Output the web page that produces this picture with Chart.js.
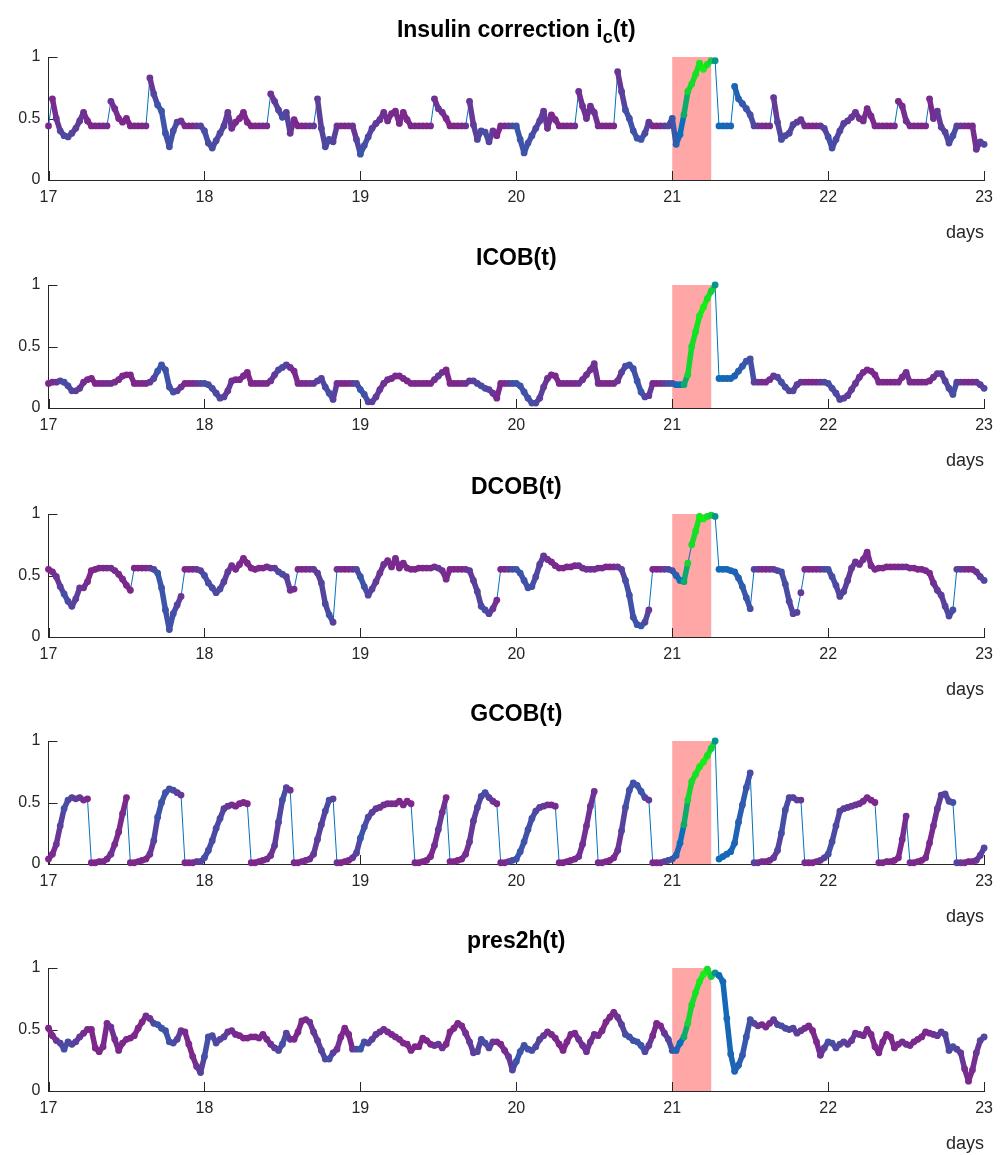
<!DOCTYPE html>
<html>
<head>
<meta charset="utf-8">
<title>Normalised features, days 17-23</title>
<script src="https://cdn.jsdelivr.net/npm/chart.js@4.4.1/dist/chart.umd.min.js"></script>
<style>
  html, body { margin: 0; padding: 0; background: #fff; }
  #figure { position: relative; width: 1001px; height: 1155px; overflow: hidden; }
  #figure canvas { position: absolute; left: 0; }
</style>
</head>
<body>
<div id="figure"></div>
<script>
// one sample every 0.025 days, day 17 to day 23
const startDay = 17;
const stepDays = 0.025;
const sampleCount = 241;

const icValues = [
  0.44,0.66,0.50,0.40,0.36,0.35,0.38,0.42,0.48,0.55,0.48,0.44,0.44,0.44,0.44,0.44,0.64,0.58,0.50,0.47,
  0.50,0.44,0.44,0.44,0.44,0.44,0.83,0.70,0.61,0.56,0.38,0.27,0.40,0.47,0.48,0.44,0.44,0.44,0.44,0.44,
  0.40,0.30,0.26,0.32,0.38,0.44,0.55,0.42,0.47,0.50,0.55,0.47,0.44,0.44,0.44,0.44,0.44,0.70,0.64,0.57,
  0.51,0.55,0.38,0.49,0.44,0.44,0.44,0.44,0.44,0.66,0.42,0.27,0.33,0.31,0.44,0.44,0.44,0.44,0.44,0.33,
  0.21,0.28,0.35,0.42,0.46,0.49,0.55,0.48,0.54,0.56,0.46,0.55,0.49,0.44,0.44,0.44,0.44,0.44,0.44,0.66,
  0.58,0.55,0.50,0.44,0.44,0.44,0.44,0.44,0.64,0.45,0.33,0.40,0.39,0.31,0.40,0.36,0.44,0.44,0.44,0.44,
  0.44,0.33,0.22,0.30,0.36,0.42,0.48,0.56,0.42,0.53,0.49,0.44,0.44,0.44,0.44,0.44,0.72,0.60,0.50,0.60,
  0.55,0.44,0.44,0.44,0.44,0.44,0.88,0.72,0.57,0.50,0.40,0.34,0.33,0.38,0.47,0.44,0.44,0.44,0.44,0.44,
  0.50,0.29,0.37,0.53,0.72,0.78,0.86,0.95,0.90,0.94,0.97,0.97,0.44,0.44,0.44,0.44,0.76,0.66,0.62,0.58,
  0.53,0.44,0.44,0.44,0.44,0.44,0.67,0.47,0.33,0.36,0.38,0.45,0.47,0.49,0.44,0.44,0.44,0.44,0.44,0.42,
  0.35,0.26,0.33,0.40,0.46,0.48,0.51,0.55,0.50,0.48,0.58,0.52,0.44,0.44,0.44,0.44,0.44,0.44,0.64,0.60,
  0.48,0.44,0.44,0.44,0.44,0.44,0.66,0.50,0.56,0.43,0.39,0.30,0.36,0.44,0.44,0.44,0.44,0.44,0.25,0.31,
  0.29
];

const icobValues = [
  0.20,0.21,0.21,0.22,0.21,0.18,0.14,0.14,0.16,0.21,0.23,0.24,0.20,0.20,0.20,0.20,0.20,0.21,0.23,0.26,
  0.27,0.27,0.20,0.20,0.20,0.20,0.21,0.24,0.30,0.35,0.31,0.17,0.13,0.14,0.17,0.20,0.20,0.20,0.20,0.20,
  0.20,0.19,0.16,0.12,0.08,0.09,0.14,0.22,0.23,0.23,0.26,0.29,0.20,0.20,0.20,0.20,0.20,0.22,0.27,0.31,
  0.33,0.35,0.33,0.30,0.20,0.20,0.20,0.20,0.20,0.22,0.24,0.17,0.12,0.07,0.20,0.20,0.20,0.20,0.20,0.20,
  0.15,0.11,0.05,0.05,0.09,0.15,0.20,0.23,0.24,0.26,0.26,0.24,0.22,0.20,0.20,0.20,0.20,0.20,0.20,0.23,
  0.26,0.29,0.31,0.20,0.20,0.20,0.20,0.20,0.22,0.22,0.20,0.18,0.16,0.15,0.12,0.08,0.20,0.20,0.20,0.20,
  0.20,0.18,0.13,0.08,0.04,0.04,0.08,0.17,0.24,0.27,0.26,0.20,0.20,0.20,0.20,0.20,0.20,0.23,0.27,0.31,
  0.36,0.20,0.20,0.20,0.20,0.20,0.22,0.29,0.34,0.35,0.32,0.22,0.13,0.09,0.10,0.20,0.20,0.20,0.20,0.20,
  0.20,0.19,0.19,0.19,0.27,0.50,0.62,0.75,0.82,0.89,0.95,1.00,0.24,0.24,0.24,0.24,0.26,0.30,0.34,0.38,
  0.40,0.21,0.21,0.21,0.21,0.23,0.26,0.25,0.21,0.17,0.14,0.14,0.19,0.21,0.21,0.21,0.21,0.21,0.21,0.21,
  0.20,0.16,0.12,0.07,0.08,0.10,0.15,0.20,0.25,0.29,0.31,0.30,0.27,0.21,0.21,0.21,0.21,0.21,0.21,0.25,
  0.29,0.21,0.21,0.21,0.21,0.21,0.22,0.25,0.28,0.28,0.22,0.16,0.11,0.21,0.21,0.21,0.21,0.21,0.21,0.19,
  0.16
];

const dcobValues = [
  0.55,0.53,0.49,0.41,0.35,0.29,0.25,0.31,0.40,0.40,0.45,0.54,0.55,0.56,0.56,0.56,0.56,0.54,0.51,0.47,
  0.42,0.38,0.56,0.56,0.56,0.56,0.56,0.55,0.52,0.40,0.22,0.06,0.19,0.26,0.33,0.55,0.55,0.55,0.55,0.54,
  0.50,0.44,0.40,0.36,0.39,0.45,0.53,0.58,0.55,0.59,0.64,0.60,0.56,0.55,0.56,0.56,0.57,0.56,0.56,0.53,
  0.51,0.49,0.38,0.39,0.55,0.55,0.55,0.55,0.55,0.52,0.44,0.27,0.18,0.12,0.55,0.55,0.55,0.55,0.55,0.55,
  0.49,0.41,0.34,0.39,0.45,0.52,0.59,0.62,0.57,0.64,0.56,0.60,0.56,0.55,0.55,0.56,0.56,0.56,0.56,0.57,
  0.56,0.54,0.47,0.55,0.55,0.55,0.55,0.55,0.54,0.46,0.37,0.25,0.22,0.19,0.23,0.30,0.55,0.55,0.55,0.55,
  0.55,0.52,0.46,0.40,0.41,0.49,0.59,0.66,0.63,0.61,0.58,0.56,0.56,0.57,0.57,0.58,0.58,0.56,0.55,0.55,
  0.55,0.56,0.56,0.57,0.57,0.57,0.57,0.55,0.46,0.34,0.16,0.10,0.09,0.12,0.22,0.55,0.55,0.55,0.55,0.55,
  0.54,0.50,0.46,0.45,0.60,0.75,0.86,0.98,0.96,0.98,0.99,0.98,0.55,0.55,0.55,0.54,0.53,0.48,0.41,0.32,
  0.23,0.55,0.55,0.55,0.55,0.55,0.55,0.54,0.53,0.43,0.29,0.19,0.20,0.36,0.55,0.55,0.55,0.55,0.55,0.55,
  0.55,0.49,0.42,0.33,0.37,0.46,0.56,0.61,0.59,0.63,0.69,0.58,0.55,0.56,0.56,0.57,0.57,0.57,0.57,0.57,
  0.57,0.56,0.56,0.55,0.55,0.54,0.52,0.44,0.38,0.34,0.25,0.17,0.22,0.55,0.55,0.55,0.55,0.55,0.53,0.49,
  0.46
];

const gcobValues = [
  0.04,0.08,0.16,0.31,0.45,0.52,0.54,0.53,0.54,0.52,0.53,0.01,0.01,0.02,0.02,0.04,0.08,0.16,0.26,0.41,
  0.54,0.01,0.01,0.02,0.03,0.04,0.08,0.19,0.38,0.50,0.58,0.61,0.60,0.58,0.56,0.01,0.01,0.01,0.02,0.02,
  0.05,0.11,0.19,0.29,0.37,0.45,0.47,0.48,0.47,0.49,0.50,0.49,0.01,0.01,0.02,0.03,0.04,0.07,0.15,0.34,
  0.52,0.62,0.60,0.01,0.01,0.02,0.03,0.04,0.08,0.20,0.32,0.43,0.52,0.53,0.01,0.01,0.02,0.03,0.05,0.09,
  0.21,0.30,0.38,0.42,0.45,0.46,0.48,0.49,0.49,0.49,0.51,0.48,0.51,0.49,0.01,0.01,0.02,0.03,0.06,0.15,
  0.28,0.42,0.54,0.02,0.02,0.03,0.04,0.08,0.18,0.35,0.46,0.55,0.58,0.54,0.51,0.49,0.01,0.01,0.02,0.03,
  0.04,0.10,0.18,0.28,0.37,0.43,0.46,0.47,0.48,0.48,0.47,0.01,0.01,0.02,0.03,0.04,0.06,0.16,0.31,0.47,
  0.59,0.01,0.01,0.02,0.03,0.05,0.11,0.27,0.46,0.60,0.66,0.64,0.59,0.54,0.52,0.01,0.01,0.01,0.02,0.03,
  0.04,0.07,0.17,0.32,0.52,0.67,0.73,0.79,0.83,0.88,0.94,1.00,0.04,0.06,0.08,0.10,0.17,0.34,0.48,0.62,
  0.74,0.01,0.01,0.02,0.02,0.03,0.05,0.11,0.25,0.44,0.54,0.54,0.52,0.52,0.01,0.01,0.01,0.02,0.03,0.05,
  0.08,0.18,0.31,0.43,0.45,0.46,0.47,0.48,0.49,0.51,0.54,0.52,0.50,0.01,0.01,0.02,0.02,0.03,0.05,0.20,
  0.39,0.01,0.01,0.02,0.03,0.05,0.17,0.31,0.45,0.56,0.57,0.51,0.50,0.01,0.01,0.01,0.02,0.02,0.03,0.07,
  0.13
];

const pres2hValues = [
  0.51,0.45,0.41,0.39,0.34,0.40,0.38,0.40,0.44,0.47,0.50,0.50,0.35,0.32,0.36,0.55,0.52,0.42,0.33,0.39,
  0.42,0.43,0.45,0.51,0.56,0.61,0.59,0.55,0.54,0.51,0.49,0.40,0.39,0.42,0.49,0.48,0.38,0.28,0.20,0.15,
  0.28,0.44,0.45,0.39,0.42,0.44,0.48,0.49,0.46,0.45,0.43,0.43,0.44,0.44,0.43,0.46,0.42,0.38,0.35,0.33,
  0.38,0.47,0.42,0.42,0.48,0.57,0.58,0.56,0.48,0.41,0.33,0.26,0.26,0.31,0.34,0.44,0.51,0.46,0.34,0.34,
  0.34,0.40,0.39,0.42,0.46,0.48,0.50,0.48,0.46,0.44,0.42,0.39,0.38,0.33,0.36,0.36,0.43,0.41,0.38,0.37,
  0.38,0.35,0.38,0.48,0.51,0.55,0.53,0.47,0.40,0.31,0.32,0.42,0.39,0.35,0.40,0.40,0.38,0.33,0.28,0.17,
  0.24,0.32,0.37,0.34,0.33,0.36,0.42,0.45,0.48,0.46,0.43,0.38,0.33,0.40,0.46,0.47,0.42,0.37,0.32,0.40,
  0.46,0.45,0.49,0.56,0.60,0.64,0.60,0.54,0.46,0.44,0.41,0.40,0.37,0.32,0.37,0.45,0.55,0.53,0.47,0.42,
  0.33,0.33,0.39,0.44,0.55,0.70,0.80,0.89,0.95,0.99,0.93,0.96,0.94,0.89,0.59,0.30,0.16,0.21,0.29,0.44,
  0.58,0.55,0.53,0.54,0.52,0.55,0.58,0.54,0.53,0.51,0.50,0.51,0.47,0.49,0.51,0.53,0.49,0.40,0.29,0.35,
  0.40,0.39,0.35,0.38,0.40,0.38,0.41,0.47,0.46,0.45,0.50,0.46,0.36,0.31,0.40,0.46,0.44,0.35,0.38,0.40,
  0.38,0.37,0.40,0.42,0.44,0.48,0.47,0.46,0.45,0.48,0.46,0.33,0.36,0.34,0.31,0.18,0.08,0.17,0.31,0.41,
  0.44
];

// scatter colour variable, one value per 0.1 day (0 = purple, 0.5 = blue, 1 = green)
const colorLevel = [
  0.10,0.45,0.30,0.05,0.25,0.10,0.05,0.50,0.45,0.10,
  0.45,0.40,0.20,0.05,0.20,0.45,0.10,0.30,0.45,0.05,
  0.50,0.30,0.20,0.15,0.05,0.30,0.05,0.30,0.45,0.10,
  0.50,0.45,0.25,0.05,0.25,0.25,0.10,0.45,0.50,0.10,
  0.50,0.85,1.00,0.65,0.60,0.45,0.15,0.45,0.35,0.10,
  0.45,0.35,0.25,0.15,0.10,0.25,0.10,0.30,0.45,0.15,
  0.40
];

// highlighted event window
const eventStart = 21;
const eventEnd = 21.25;

const days = [];
for (let i = 0; i < sampleCount; i++) days.push(+(startDay + i * stepDays).toFixed(3));

[icValues, icobValues, dcobValues, gcobValues, pres2hValues].forEach((s, n) => {
  if (s.length !== sampleCount) throw new Error('series ' + n + ' has ' + s.length + ' samples');
});

const FONT = '"Liberation Sans", Arial, Helvetica, sans-serif';
const AXIS_COLOR = '#262626';
const CANVAS_H = 250;
const PLOT_TOP = 57;
const PLOT_H = 123;
const panelOffsets = [0, 228, 457, 684, 911];

// jumpUp / jumpDown: steps bigger than this are resets, only the thin line joins them
const panels = [
  { title: [['Insulin correction i'], ['c', true], ['(t)']], values: icValues, jumpUp: 0.195, jumpDown: 0.3 },
  { title: [['ICOB(t)']], values: icobValues, jumpUp: 1, jumpDown: 0.3 },
  { title: [['DCOB(t)']], values: dcobValues, jumpUp: 0.15, jumpDown: 0.3 },
  { title: [['GCOB(t)']], values: gcobValues, jumpUp: 1, jumpDown: 0.3 },
  { title: [['pres2h(t)']], values: pres2hValues, jumpUp: 1, jumpDown: 1 }
];

const colorStops = [
  [0.0, [128, 36, 136]],
  [0.2, [122, 42, 142]],
  [0.5, [58, 86, 170]],
  [0.7, [0, 114, 189]],
  [0.8, [20, 205, 60]],
  [1.0, [20, 240, 20]]
];

function levelAt(t) {
  const f = (t - startDay) / 0.1;
  const k = Math.max(0, Math.min(colorLevel.length - 1, Math.floor(f)));
  const k2 = Math.min(colorLevel.length - 1, k + 1);
  const w = Math.max(0, Math.min(1, f - k));
  return colorLevel[k] * (1 - w) + colorLevel[k2] * w;
}

function levelColor(v) {
  for (let i = 1; i < colorStops.length; i++) {
    const [p1, c1] = colorStops[i];
    if (v <= p1) {
      const [p0, c0] = colorStops[i - 1];
      const w = (v - p0) / (p1 - p0);
      const c = c0.map((a, j) => Math.round(a + (c1[j] - a) * w));
      return 'rgb(' + c.join(',') + ')';
    }
  }
  return 'rgb(' + colorStops[colorStops.length - 1][1].join(',') + ')';
}

function decorPlugin(titleRuns) {
  return {
    id: 'decor',
    beforeDatasetsDraw(chart) {
      const { ctx, chartArea, scales: { x, y } } = chart;
      ctx.save();
      // event window
      const x0 = x.getPixelForValue(eventStart);
      const x1 = x.getPixelForValue(eventEnd);
      const y0 = y.getPixelForValue(1);
      const y1 = y.getPixelForValue(0);
      ctx.fillStyle = 'rgba(255, 0, 0, 0.35)';
      ctx.fillRect(x0, y0, x1 - x0, y1 - y0);
      // tick marks point into the axes
      ctx.strokeStyle = AXIS_COLOR;
      ctx.lineWidth = 1;
      x.ticks.forEach(t => {
        const px = Math.round(x.getPixelForValue(t.value)) + 0.5;
        ctx.beginPath();
        ctx.moveTo(px, chartArea.bottom);
        ctx.lineTo(px, chartArea.bottom - 9);
        ctx.stroke();
      });
      y.ticks.forEach(t => {
        const py = Math.round(y.getPixelForValue(t.value)) + 0.5;
        ctx.beginPath();
        ctx.moveTo(chartArea.left, py);
        ctx.lineTo(chartArea.left + 9, py);
        ctx.stroke();
      });
      ctx.restore();
    },
    afterDraw(chart) {
      const { ctx, chartArea } = chart;
      const mainFont = 'bold 23px ' + FONT;
      const subFont = 'bold 18px ' + FONT;
      ctx.save();
      ctx.fillStyle = '#000';
      ctx.textBaseline = 'alphabetic';
      let width = 0;
      titleRuns.forEach(([text, sub]) => {
        ctx.font = sub ? subFont : mainFont;
        width += ctx.measureText(text).width;
      });
      let cx = (chartArea.left + chartArea.right) / 2 - width / 2;
      const baseY = chartArea.top - 20;
      titleRuns.forEach(([text, sub]) => {
        ctx.font = sub ? subFont : mainFont;
        ctx.textAlign = 'left';
        ctx.fillText(text, cx, sub ? baseY + 6 : baseY);
        cx += ctx.measureText(text).width;
      });
      ctx.restore();
    }
  };
}

const figure = document.getElementById('figure');

panels.forEach((panel, n) => {
  const canvas = document.createElement('canvas');
  canvas.width = 1001;
  canvas.height = CANVAS_H;
  canvas.style.top = panelOffsets[n] + 'px';
  figure.appendChild(canvas);

  const pts = days.map((t, i) => ({ x: t, y: panel.values[i] }));

  new Chart(canvas, {
    data: {
      datasets: [
        {
          type: 'scatter',
          data: pts,
          order: 1,
          clip: false,
          showLine: false,
          pointRadius: 3.4,
          pointHoverRadius: 3.4,
          pointBorderWidth: 0,
          pointBackgroundColor: ctx => levelColor(levelAt(ctx.raw ? ctx.raw.x : startDay))
        },
        {
          type: 'line',
          data: pts,
          order: 2,
          clip: false,
          pointRadius: 0,
          borderWidth: 5.5,
          borderCapStyle: 'round',
          borderJoinStyle: 'round',
          segment: {
            borderColor: ctx => {
              const dy = ctx.p1.parsed.y - ctx.p0.parsed.y;
              if (dy > panel.jumpUp || -dy > panel.jumpDown) return 'rgba(0,0,0,0)';
              return levelColor(levelAt(ctx.p0.parsed.x));
            }
          }
        },
        {
          type: 'line',
          data: pts,
          order: 3,
          clip: false,
          pointRadius: 0,
          borderWidth: 1,
          borderColor: '#0072BD'
        }
      ]
    },
    options: {
      responsive: false,
      animation: false,
      devicePixelRatio: 1,
      events: [],
      layout: { padding: { top: PLOT_TOP, right: 15, left: 0, bottom: 0 } },
      plugins: { legend: { display: false }, tooltip: { enabled: false } },
      scales: {
        x: {
          type: 'linear',
          position: 'bottom',
          min: 17,
          max: 23,
          grid: { display: false, drawTicks: false },
          border: { display: true, color: AXIS_COLOR, width: 1 },
          ticks: {
            stepSize: 1,
            autoSkip: false,
            maxRotation: 0,
            padding: 8,
            color: AXIS_COLOR,
            font: { family: FONT, size: 16 }
          },
          title: {
            display: true,
            text: 'days',
            align: 'end',
            color: AXIS_COLOR,
            font: { family: FONT, size: 18, lineHeight: 1.2 },
            padding: { top: 0, bottom: 6 }
          },
          afterFit: s => { s.height = CANVAS_H - PLOT_TOP - PLOT_H; }
        },
        y: {
          type: 'linear',
          min: 0,
          max: 1,
          grid: { display: false, drawTicks: false },
          border: { display: true, color: AXIS_COLOR, width: 1 },
          ticks: {
            stepSize: 0.5,
            padding: 8,
            color: AXIS_COLOR,
            font: { family: FONT, size: 16 },
            callback: v => String(v)
          },
          afterFit: s => { s.width = 48.5; }
        }
      }
    },
    plugins: [decorPlugin(panel.title)]
  });
});
</script>
</body>
</html>
